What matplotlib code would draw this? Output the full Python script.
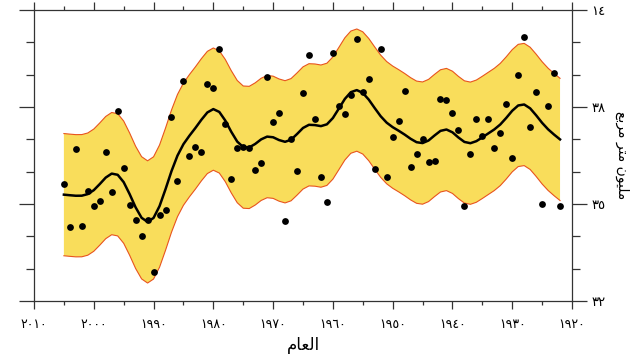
import numpy as np
import matplotlib
matplotlib.use("Agg")
import matplotlib.pyplot as plt
from matplotlib.ticker import MultipleLocator, FixedLocator

# March-April snow cover, one value per year (2005 back to 1922)
years = np.arange(2005, 1921, -1)
snow_cover = [
    35.63, 34.30, 36.69, 34.32, 35.41, 34.94, 35.09, 36.61, 35.37, 37.87,
    36.12, 34.98, 34.51, 34.02, 34.49, 32.90, 34.67, 34.80, 37.68, 35.72,
    38.80, 36.48, 36.76, 36.61, 38.72, 38.59, 39.80, 37.46, 35.78, 36.72,
    36.75, 36.74, 36.05, 36.28, 38.92, 37.54, 37.82, 34.48, 37.01, 36.03,
    38.44, 39.62, 37.63, 35.83, 35.06, 39.68, 38.03, 37.77, 38.38, 40.10,
    38.45, 38.87, 36.09, 39.80, 35.84, 37.07, 37.56, 38.48, 36.13, 36.54,
    37.02, 36.30, 36.32, 38.24, 38.22, 37.82, 37.28, 34.94, 36.56, 37.62,
    37.11, 37.63, 36.74, 37.21, 38.08, 36.42, 39.00, 40.17, 37.37, 38.47,
    35.00, 38.02, 39.04, 34.94,
]
band_halfwidth = 1.89

x_ticks = [2010, 2000, 1990, 1980, 1970, 1960, 1950, 1940, 1930, 1920]
x_labels = ["٢٠١٠", "٢٠٠٠", "١٩٩٠", "١٩٨٠", "١٩٧٠", "١٩٦٠", "١٩٥٠", "١٩٤٠", "١٩٣٠", "١٩٢٠"]
y_ticks = [32, 35, 38, 41]
y_labels = ["٣٢", "٣٥", "٣٨", "١٤"]

# Arabic written in presentation forms, already in visual order
x_title = "\ufee1\ufe8e\ufecc\ufedf\ufe8d"
y_title = "\ufeca\ufe91\ufeae\ufee3 \ufeae\ufe98\ufee3 \ufee5\ufeee\ufef4\ufee0\ufee3"

# decadal smoothing: 13-term filter, weights renormalised where it runs off the ends
weights = np.array([1, 6, 19, 42, 71, 96, 106, 96, 71, 42, 19, 6, 1], dtype=float)
vals = np.array(snow_cover)
smooth = np.convolve(vals, weights, mode="same") / np.convolve(np.ones_like(vals), weights, mode="same")

fig = plt.figure(figsize=(6.37, 3.58), dpi=100)
ax = fig.add_axes([34 / 637, 1 - 301 / 358, (572 - 34) / 637, (301 - 10) / 358])

ax.fill_between(years, smooth - band_halfwidth, smooth + band_halfwidth,
                facecolor="#F9DD5B", edgecolor="none", zorder=1)
ax.plot(years, smooth + band_halfwidth, color="#E8541E", lw=0.8, zorder=2)
ax.plot(years, smooth - band_halfwidth, color="#E8541E", lw=0.8, zorder=2)
ax.plot(years, smooth, color="black", lw=1.8, zorder=3)
ax.scatter(years, snow_cover, s=24, color="black", zorder=4, linewidths=0)

ax.set_xlim(2010, 1920)
ax.set_ylim(32, 41)

ax.xaxis.set_major_locator(FixedLocator(x_ticks))
ax.xaxis.set_minor_locator(MultipleLocator(5))
ax.set_xticklabels(x_labels, family=["DejaVu Sans"], fontsize=9)
ax.yaxis.set_major_locator(FixedLocator(y_ticks))
ax.yaxis.set_minor_locator(MultipleLocator(1))
ax.set_yticklabels(y_labels, family=["DejaVu Sans"], fontsize=9.5)

ax.yaxis.tick_right()
ax.yaxis.set_label_position("right")
ax.tick_params(axis="x", which="both", direction="out", top=True, bottom=True, color="#333333")
ax.tick_params(axis="x", which="major", length=6, width=0.9, pad=6)
ax.tick_params(axis="x", which="minor", length=3, width=0.9)
ax.tick_params(axis="y", which="both", direction="out", left=True, right=True, color="#333333")
ax.tick_params(axis="y", which="major", length=11, width=0.9, pad=3)
ax.tick_params(axis="y", which="minor", length=5.5, width=0.9)
for sp in ax.spines.values():
    sp.set_color("#333333")
    sp.set_linewidth(0.9)

ax.set_xlabel(x_title, family=["DejaVu Sans"], fontsize=12, labelpad=4)
ax.set_ylabel(y_title, family=["DejaVu Sans"], fontsize=10, rotation=270, labelpad=17)

fig.savefig("out.png", dpi=100)
